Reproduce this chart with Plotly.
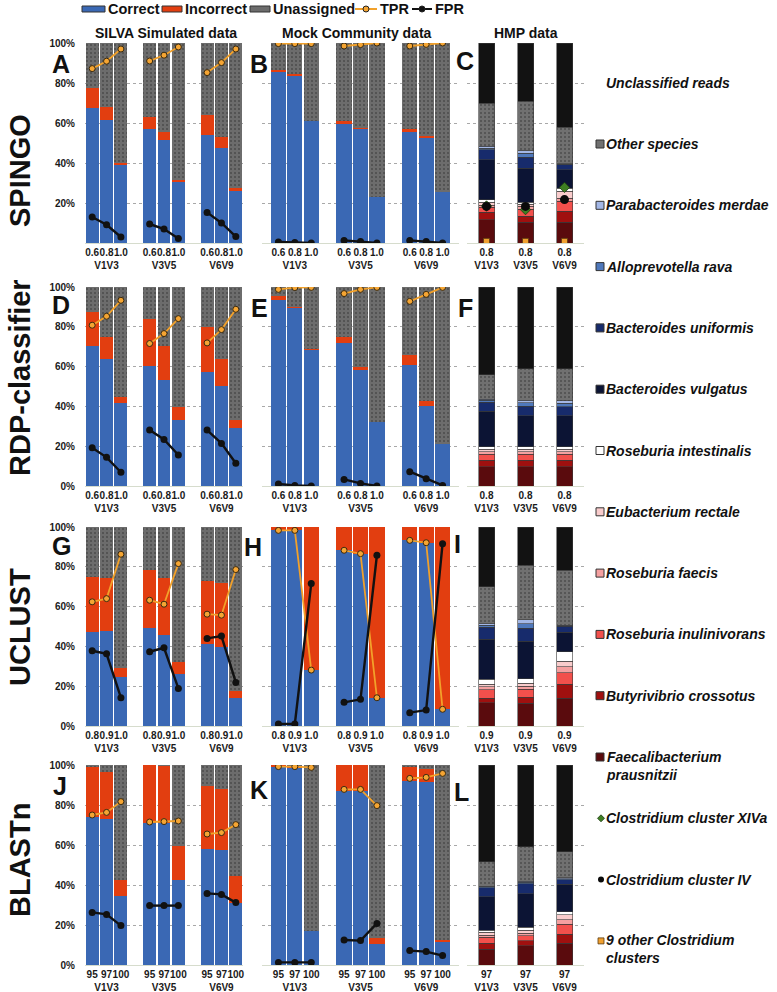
import plotly.graph_objects as go

W, H = 777, 992
FONT = "Liberation Sans, Arial, Helvetica, sans-serif"

# ---------------- data ----------------
regions = ["V1V3", "V3V5", "V6V9"]
methods = ["SPINGO", "RDP-classifier", "UCLUST", "BLASTn"]
thr_spingo = ["0.6", "0.8", "1.0"]
thr_rdp = ["0.6", "0.8", "1.0"]
thr_uclust = ["0.8", "0.9", "1.0"]
thr_blast = ["95", "97", "100"]
hmp_thr = ["0.8", "0.8", "0.9", "97"]
col_titles = ["SILVA Simulated data", "Mock Community data", "HMP data"]
panel_letters = ["A", "B", "C", "D", "E", "F", "G", "H", "I", "J", "K", "L"]

# values in %, order: V1V3 (3 thresholds), V3V5 (3), V6V9 (3)
spingo_silva_correct = [67.3, 61.5, 39.0, 57.0, 51.5, 30.7, 54.2, 47.7, 26.2]
spingo_silva_incorrect = [10.3, 6.3, 1.2, 5.8, 3.8, 0.9, 9.8, 5.3, 1.2]
spingo_silva_tpr = [87.2, 90.9, 97.0, 91.0, 93.9, 98.0, 85.2, 90.2, 97.0]
spingo_silva_fpr = [13.0, 9.1, 3.0, 9.5, 7.0, 2.2, 15.3, 10.0, 3.2]

spingo_mock_correct = [85.5, 83.8, 61.0, 59.7, 57.2, 23.0, 55.5, 52.7, 25.5]
spingo_mock_incorrect = [0.8, 0.5, 0.0, 1.2, 0.5, 0.0, 1.5, 0.8, 0.0]
spingo_mock_tpr = [99.7, 99.7, 99.7, 98.5, 99.2, 100.0, 98.5, 99.3, 100.0]
spingo_mock_fpr = [0.5, 0.2, 0.0, 1.3, 0.8, 0.0, 1.3, 0.8, 0.0]

rdp_silva_correct = [70.2, 63.9, 41.5, 60.2, 53.5, 33.1, 57.2, 50.3, 29.3]
rdp_silva_incorrect = [17.3, 11.1, 3.3, 23.6, 16.7, 6.4, 22.7, 13.6, 3.8]
rdp_silva_tpr = [80.8, 85.3, 93.3, 71.6, 76.6, 84.1, 71.9, 78.6, 88.8]
rdp_silva_fpr = [19.2, 14.4, 6.9, 28.1, 23.4, 15.6, 28.1, 21.4, 11.4]

rdp_mock_correct = [93.6, 89.5, 68.6, 72.1, 58.5, 32.3, 60.7, 40.3, 21.1]
rdp_mock_incorrect = [1.7, 0.3, 0.3, 2.7, 1.3, 0.0, 4.9, 2.2, 0.0]
rdp_mock_tpr = [98.8, 99.7, 99.8, 96.7, 98.8, 99.8, 92.8, 96.3, 99.8]
rdp_mock_fpr = [1.0, 0.3, 0.0, 3.3, 1.3, 0.0, 7.2, 3.7, 0.3]

uclust_silva_correct = [47.0, 47.7, 24.7, 49.3, 45.5, 26.1, 41.1, 39.8, 13.9]
uclust_silva_incorrect = [27.9, 26.9, 4.2, 29.0, 28.9, 6.2, 31.8, 32.1, 3.8]
uclust_silva_tpr = [62.4, 64.0, 86.3, 63.2, 61.2, 81.6, 56.2, 55.7, 78.6]
uclust_silva_fpr = [37.8, 36.3, 14.2, 37.3, 39.3, 18.9, 44.0, 45.2, 21.9]

uclust_mock_correct = [98.3, 98.3, 28.1, 88.3, 86.6, 13.9, 93.3, 92.0, 8.4]
uclust_mock_incorrect = [1.7, 1.7, 71.9, 11.7, 13.4, 86.1, 6.7, 8.0, 91.6]
uclust_mock_tpr = [98.3, 98.3, 28.1, 88.3, 86.6, 14.2, 93.3, 92.1, 8.4]
uclust_mock_fpr = [1.0, 1.0, 71.6, 11.9, 13.4, 85.8, 6.7, 8.0, 91.6]

blast_silva_correct = [73.8, 72.8, 34.7, 70.8, 70.8, 42.5, 58.0, 57.5, 30.8]
blast_silva_incorrect = [25.4, 23.9, 7.8, 29.2, 28.9, 17.2, 31.7, 30.3, 13.9]
blast_silva_tpr = [75.0, 76.3, 81.7, 71.5, 71.7, 72.0, 65.5, 66.2, 70.2]
blast_silva_fpr = [26.3, 25.3, 19.7, 29.7, 29.7, 29.7, 35.8, 35.3, 31.2]

blast_mock_correct = [99.2, 98.7, 17.2, 87.2, 87.2, 10.5, 92.2, 91.3, 11.7]
blast_mock_incorrect = [0.8, 1.0, 0.0, 12.8, 12.8, 2.8, 7.0, 6.7, 0.8]
blast_mock_tpr = [99.2, 99.2, 98.8, 87.8, 87.8, 79.7, 93.3, 93.8, 95.8]
blast_mock_fpr = [1.3, 1.3, 1.3, 12.5, 12.2, 20.8, 7.2, 6.7, 4.7]

# HMP data: species (stack order bottom -> top)
hmp_species = ["Faecalibacterium prausnitzii", "Butyrivibrio crossotus",
               "Roseburia inulinivorans", "Roseburia faecis", "Eubacterium rectale",
               "Roseburia intestinalis", "Bacteroides vulgatus", "Bacteroides uniformis",
               "Alloprevotella rava", "Parabacteroides merdae", "Other species",
               "Unclassified reads"]
hmp_colors = ["#5a0b0d", "#a0100f", "#f2504c", "#f5a0a0", "#f9cccc", "#ffffff",
              "#0c1434", "#172b6c", "#4f78bb", "#a3b7e6", "#707070", "#121212"]

spingo_hmp_v1v3 = [11.7, 3.6, 2.5, 1.2, 1.5, 1.2, 20.0, 5.0, 0.8, 0.8, 21.7, 30.0]
spingo_hmp_v3v5 = [10.3, 3.0, 3.7, 1.3, 1.2, 1.0, 17.0, 5.5, 2.0, 1.2, 24.6, 29.2]
spingo_hmp_v6v9 = [10.3, 5.5, 5.0, 1.7, 3.3, 1.7, 9.2, 2.5, 0.3, 0.2, 18.3, 42.0]
rdp_hmp_v1v3 = [9.7, 3.3, 2.9, 1.3, 1.2, 1.3, 17.9, 4.4, 1.1, 0.5, 12.4, 44.0]
rdp_hmp_v3v5 = [9.7, 3.3, 2.9, 1.3, 1.2, 1.3, 15.6, 4.8, 1.7, 1.3, 15.9, 41.0]
rdp_hmp_v6v9 = [9.7, 3.3, 2.9, 1.3, 1.2, 1.3, 15.6, 4.5, 1.7, 1.3, 16.2, 41.0]
uclust_hmp_v1v3 = [11.7, 2.2, 4.2, 1.6, 1.4, 2.3, 20.1, 6.0, 1.2, 0.8, 18.4, 30.1]
uclust_hmp_v3v5 = [11.4, 3.0, 4.0, 1.7, 1.3, 2.3, 18.9, 6.4, 2.5, 2.0, 27.3, 19.2]
uclust_hmp_v6v9 = [13.9, 7.2, 5.7, 3.0, 2.8, 4.7, 9.7, 3.2, 0.3, 0.2, 27.6, 21.7]
blast_hmp_v1v3 = [8.0, 3.0, 2.8, 1.2, 1.3, 1.1, 16.7, 4.6, 0.5, 0.3, 12.1, 48.4]
blast_hmp_v3v5 = [9.6, 2.5, 2.5, 1.3, 1.5, 1.4, 16.9, 5.0, 0.7, 0.6, 17.1, 40.9]
blast_hmp_v6v9 = [10.8, 4.6, 5.0, 2.2, 2.5, 1.6, 13.7, 2.3, 0.5, 0.5, 12.9, 43.4]

# Clostridium cluster markers (SPINGO HMP only), % per region
spingo_clostridium_xiva = [18.5, 16.7, 27.8]
spingo_clostridium_iv = [18.3, 18.3, 21.7]
spingo_clostridium_other9 = [0.8, 0.8, 0.8]

legend_labels = ["Unclassified reads", "Other species", "Parabacteroides merdae",
                 "Alloprevotella rava", "Bacteroides uniformis", "Bacteroides vulgatus",
                 "Roseburia intestinalis", "Eubacterium rectale", "Roseburia faecis",
                 "Roseburia inulinivorans", "Butyrivibrio crossotus",
                 "Faecalibacterium<br>prausnitzii", "Clostridium cluster XIVa",
                 "Clostridium cluster IV", "9 other Clostridium<br>clusters"]

# ---------------- styling ----------------
C_CORRECT = "#3a68b4"
C_INCORRECT = "#e23e10"
C_UNASSIGNED = "#6c6c6c"
C_TPR = "#f2a12a"
C_FPR = "#111111"
GRAY_PATTERN = dict(shape=".", fgcolor="#2e2e2e", size=4, solidity=0.22, fillmode="overlay")

col_x_px = [(85, 243), (262, 459), (467, 584)]
col_range = [[-0.5, 10.5], [-1, 11], [-0.5, 2.5]]
col_barw = [0.9, 0.93, 0.41]
row_y_px = [(43, 243), (287, 486), (527, 726), (765, 965)]


def px_x(px):
    return px / W


def px_y(py):
    return 1 - py / H


silva = [
    (spingo_silva_correct, spingo_silva_incorrect, spingo_silva_tpr, spingo_silva_fpr),
    (rdp_silva_correct, rdp_silva_incorrect, rdp_silva_tpr, rdp_silva_fpr),
    (uclust_silva_correct, uclust_silva_incorrect, uclust_silva_tpr, uclust_silva_fpr),
    (blast_silva_correct, blast_silva_incorrect, blast_silva_tpr, blast_silva_fpr),
]
mock = [
    (spingo_mock_correct, spingo_mock_incorrect, spingo_mock_tpr, spingo_mock_fpr),
    (rdp_mock_correct, rdp_mock_incorrect, rdp_mock_tpr, rdp_mock_fpr),
    (uclust_mock_correct, uclust_mock_incorrect, uclust_mock_tpr, uclust_mock_fpr),
    (blast_mock_correct, blast_mock_incorrect, blast_mock_tpr, blast_mock_fpr),
]
hmp = [
    (spingo_hmp_v1v3, spingo_hmp_v3v5, spingo_hmp_v6v9),
    (rdp_hmp_v1v3, rdp_hmp_v3v5, rdp_hmp_v6v9),
    (uclust_hmp_v1v3, uclust_hmp_v3v5, uclust_hmp_v6v9),
    (blast_hmp_v1v3, blast_hmp_v3v5, blast_hmp_v6v9),
]
thresholds = [thr_spingo, thr_rdp, thr_uclust, thr_blast]

fig = go.Figure()
layout_axes = {}

# bar x positions: 3 regions x 3 thresholds with one empty slot between regions
bar_x = [g * 4 + t for g in range(len(regions)) for t in range(3)]


def line_xy(vals):
    xs, ys = [], []
    for g in range(len(regions)):
        for t in range(3):
            xs.append(g * 4 + t)
            ys.append(vals[g * 3 + t])
        xs.append(None)
        ys.append(None)
    return xs, ys


for r in range(4):
    for c in range(3):
        p = r * 3 + c
        sfx = "" if p == 0 else str(p + 1)
        xa, ya = "x" + sfx, "y" + sfx
        xdom = [px_x(col_x_px[c][0]), px_x(col_x_px[c][1])]
        ydom = [px_y(row_y_px[r][1]), px_y(row_y_px[r][0])]

        if c < 2:
            corr, inc, tpr, fpr = (silva if c == 0 else mock)[r]
            unas = [max(0.0, round(100 - a - b, 2)) for a, b in zip(corr, inc)]
            fig.add_trace(go.Bar(x=bar_x, y=corr, width=col_barw[c], marker=dict(color=C_CORRECT, line=dict(width=0)),
                                 xaxis=xa, yaxis=ya, name="Correct"))
            fig.add_trace(go.Bar(x=bar_x, y=inc, width=col_barw[c], marker=dict(color=C_INCORRECT, line=dict(width=0)),
                                 xaxis=xa, yaxis=ya, name="Incorrect"))
            fig.add_trace(go.Bar(x=bar_x, y=unas, width=col_barw[c],
                                 marker=dict(color=C_UNASSIGNED, line=dict(width=0), pattern=GRAY_PATTERN),
                                 xaxis=xa, yaxis=ya, name="Unassigned"))
            tx, ty = line_xy(tpr)
            fig.add_trace(go.Scatter(x=tx, y=ty, mode="lines+markers", xaxis=xa, yaxis=ya, name="TPR",
                                     line=dict(color=C_TPR, width=1.8),
                                     marker=dict(color="#f5a533", size=6, line=dict(color="#3a2a10", width=1))))
            fx, fy = line_xy(fpr)
            fig.add_trace(go.Scatter(x=fx, y=fy, mode="lines+markers", xaxis=xa, yaxis=ya, name="FPR",
                                     line=dict(color=C_FPR, width=2.4),
                                     marker=dict(color=C_FPR, size=7)))
            thr = thresholds[r]
            tickvals = bar_x
            ticktext = [thr[t] + ("<br>" + regions[g] if t == 1 else "") for g in range(3) for t in range(3)]
        else:
            stacks = hmp[r]
            for s, sp in enumerate(hmp_species):
                vals = [stacks[g][s] for g in range(3)]
                mk = dict(color=hmp_colors[s], line=dict(color="#3a3a3a", width=0.6))
                if sp == "Other species":
                    mk["pattern"] = GRAY_PATTERN
                fig.add_trace(go.Bar(x=[0, 1, 2], y=vals, width=col_barw[c], marker=mk,
                                     xaxis=xa, yaxis=ya, name=sp))
            if r == 0:
                fig.add_trace(go.Scatter(x=[0, 1, 2], y=spingo_clostridium_other9, mode="markers",
                                         xaxis=xa, yaxis=ya, name="9 other Clostridium clusters",
                                         marker=dict(symbol="square", size=6, color="#f0a030",
                                                     line=dict(color="#5a3a10", width=0.8))))
                fig.add_trace(go.Scatter(x=[0, 1, 2], y=spingo_clostridium_xiva, mode="markers",
                                         xaxis=xa, yaxis=ya, name="Clostridium cluster XIVa",
                                         marker=dict(symbol="diamond", size=8, color="#3f7f22",
                                                     line=dict(color="#1a3a10", width=0.8))))
                fig.add_trace(go.Scatter(x=[0, 1, 2], y=spingo_clostridium_iv, mode="markers",
                                         xaxis=xa, yaxis=ya, name="Clostridium cluster IV",
                                         marker=dict(symbol="circle", size=9, color="#0a0a0a")))
            tickvals = [0, 1, 2]
            ticktext = [hmp_thr[r] + "<br>" + reg for reg in regions]

        layout_axes["xaxis" + sfx] = dict(
            domain=xdom, range=col_range[c], anchor=ya, tickmode="array", tickvals=tickvals,
            ticktext=ticktext, tickangle=0, showgrid=False, zeroline=False, showline=True,
            linecolor="#d6dccd", linewidth=1, ticks="", fixedrange=True, automargin=False,
            tickfont=dict(size=10, family=FONT, color="#1a1a1a", weight="bold"))
        ytv = [0, 20, 40, 60, 80, 100] if r > 0 else [20, 40, 60, 80, 100]
        layout_axes["yaxis" + sfx] = dict(
            domain=ydom, range=[0, 100], anchor=xa, tickmode="array",
            tickvals=[0, 20, 40, 60, 80, 100] if c > 0 else ytv,
            ticktext=[f"{v}%" for v in ytv] if c == 0 else None,
            showticklabels=(c == 0), showgrid=True, gridcolor="#a8a8a8", griddash="dot",
            gridwidth=1, zeroline=False, showline=False, ticks="outside", ticklen=7,
            tickcolor="rgba(0,0,0,0)", fixedrange=True, automargin=False,
            tickfont=dict(size=10, family=FONT, color="#1a1a1a", weight="bold"))

annotations = []
shapes = []
bold = dict(family=FONT, color="#111111", weight="bold")

# column titles
for title, cx in zip(col_titles, [166, 357, 526]):
    annotations.append(dict(text=title, x=px_x(cx), y=px_y(33), xref="paper", yref="paper",
                            xanchor="center", yanchor="middle", showarrow=False, font=dict(size=14, **bold)))

# row labels
for name, cy in zip(methods, [171, 378, 627, 860]):
    annotations.append(dict(text=name, x=px_x(20), y=px_y(cy), xref="paper", yref="paper", textangle=-90,
                            xanchor="center", yanchor="middle", showarrow=False, font=dict(size=29, **bold)))

# panel letters
letter_pos = [(61, 64), (259, 64), (465, 61), (61, 305), (259, 308), (466, 308),
              (61, 546), (253, 547), (457, 544), (60, 786), (259, 790), (461, 792)]
for letter, (lx, ly) in zip(panel_letters, letter_pos):
    annotations.append(dict(text=letter, x=px_x(lx), y=px_y(ly), xref="paper", yref="paper",
                            xanchor="center", yanchor="middle", showarrow=False, borderpad=0,
                            font=dict(size=25, **bold)))

# top legend
top_items = [("rect", C_CORRECT, "Correct", 82, 105), ("rect", C_INCORRECT, "Incorrect", 162, 182),
             ("rect", C_UNASSIGNED, "Unassigned", 250, 270), ("line", C_TPR, "TPR", 355, 377),
             ("line", C_FPR, "FPR", 412, 432)]
ly = 9
for kind, col, label, x0, x1 in top_items:
    if kind == "rect":
        shapes.append(dict(type="rect", xref="paper", yref="paper", x0=px_x(x0), x1=px_x(x1),
                           y0=px_y(ly + 3), y1=px_y(ly - 3), fillcolor=col, line=dict(color="#333333", width=1)))
    else:
        shapes.append(dict(type="line", xref="paper", yref="paper", x0=px_x(x0), x1=px_x(x1),
                           y0=px_y(ly), y1=px_y(ly), line=dict(color=col, width=2)))
        xm = (x0 + x1) / 2
        fill = "#f5a533" if label == "TPR" else C_FPR
        shapes.append(dict(type="circle", xref="paper", yref="paper", x0=px_x(xm - 3), x1=px_x(xm + 3),
                           y0=px_y(ly + 3), y1=px_y(ly - 3), fillcolor=fill, line=dict(color="#222222", width=1)))
    annotations.append(dict(text=label, x=px_x(x1 + 1), y=px_y(ly), xref="paper", yref="paper",
                            xanchor="left", yanchor="middle", showarrow=False, font=dict(size=14.5, **bold)))

# right legend (HMP species)
leg_y0, leg_pitch = 82.7, 61.3
legend_swatch = [None, "#707070", "#a3b7e6", "#4f78bb", "#172b6c", "#0c1434", "#ffffff",
                 "#f9cccc", "#f5a0a0", "#f2504c", "#a0100f", "#5a0b0d",
                 "diamond", "dot", "smallsquare"]
for i, label in enumerate(legend_labels):
    cy = leg_y0 + i * leg_pitch
    two_line = "<br>" in label
    ty = cy + 8.5 if two_line else cy
    annotations.append(dict(text=label, x=px_x(604), y=px_y(ty), xref="paper", yref="paper",
                            xanchor="left", yanchor="middle", showarrow=False,
                            font=dict(size=14, family=FONT, color="#111111", weight="bold", style="italic"),
                            align="left"))
    sw = legend_swatch[i]
    if sw is None:
        continue
    if sw == "diamond":
        xc, yc = 601, cy
        path = (f"M {px_x(xc)} {px_y(yc - 3.5)} L {px_x(xc + 3.5)} {px_y(yc)} "
                f"L {px_x(xc)} {px_y(yc + 3.5)} L {px_x(xc - 3.5)} {px_y(yc)} Z")
        shapes.append(dict(type="path", xref="paper", yref="paper", path=path,
                           fillcolor="#3f7f22", line=dict(color="#1a3a10", width=0.8)))
    elif sw == "dot":
        shapes.append(dict(type="circle", xref="paper", yref="paper", x0=px_x(598), x1=px_x(604),
                           y0=px_y(cy + 3), y1=px_y(cy - 3), fillcolor="#0a0a0a", line=dict(width=0)))
    elif sw == "smallsquare":
        shapes.append(dict(type="rect", xref="paper", yref="paper", x0=px_x(598), x1=px_x(604),
                           y0=px_y(cy + 3), y1=px_y(cy - 3), fillcolor="#f0a030",
                           line=dict(color="#5a3a10", width=0.8)))
    else:
        shapes.append(dict(type="rect", xref="paper", yref="paper", x0=px_x(596), x1=px_x(604),
                           y0=px_y(cy + 4), y1=px_y(cy - 4), fillcolor=sw,
                           line=dict(color="#333333", width=1)))

fig.update_layout(
    width=W, height=H, margin=dict(l=0, r=0, t=0, b=0, autoexpand=False), autosize=False,
    paper_bgcolor="white", plot_bgcolor="white", showlegend=False, barmode="stack",
    font=dict(family=FONT, color="#111111"), annotations=annotations, shapes=shapes,
    **layout_axes)

fig.write_html("out.html", config={"displayModeBar": False},
               post_script="document.body.style.margin='0px';")
